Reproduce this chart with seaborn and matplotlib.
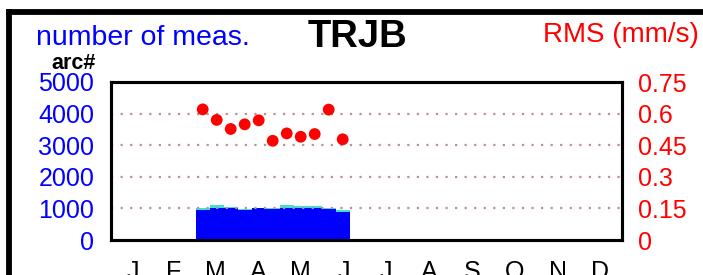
#!/usr/bin/env python3
"""Monthly overview for station TRJB: number of measurements (bars) and RMS (dots)."""

import matplotlib

matplotlib.use("Agg")

import matplotlib.pyplot as plt
import numpy as np
import pandas as pd
import seaborn as sns
from matplotlib.lines import Line2D

# --- data ----------------------------------------------------------------
MONTHS = ["J", "F", "M", "A", "M", "J", "J", "A", "S", "O", "N", "D"]
MONTH_DAYS = [31, 28, 31, 30, 31, 30, 31, 31, 30, 31, 30, 31]

# 10-day bins, first bin starts at day-of-year 60.5
bin_start = [60.5, 70.5, 80.5, 90.5, 100.5, 110.5, 120.5, 130.5, 140.5, 150.5, 160.5]
n_arc = [950, 1020, 1000, 945, 1000, 970, 1020, 1000, 1010, 970, 900]
n_total = [1000, 1095, 1030, 970, 1020, 1000, 1115, 1085, 1085, 1000, 960]
rms = [0.620, 0.570, 0.527, 0.549, 0.568, 0.471, 0.506, 0.490, 0.503, 0.619, 0.478]

BIN_WIDTH = 10

W, H = 703, 275


def fx(px):
    return px / W


def fy(py):
    return 1 - py / H


def main():
    sns.set_theme(style="white")
    plt.rcParams["font.family"] = ["Liberation Sans", "DejaVu Sans"]

    df = pd.DataFrame({"start": bin_start, "arc": n_arc, "total": n_total, "rms": rms})
    df["mid"] = df["start"] + BIN_WIDTH / 2

    fig = plt.figure(figsize=(W / 100, H / 100), dpi=100)
    ax = fig.add_axes([fx(111), fy(240), fx(622) - fx(111), fy(82) - fy(240)])

    # bars: cyan total underneath, blue arc count on top
    ax.bar(df["start"], df["total"], width=BIN_WIDTH, align="edge",
           color="#40e0d0", linewidth=0, zorder=1)
    ax.bar(df["start"], df["arc"], width=BIN_WIDTH, align="edge",
           color="#0000ff", linewidth=0, zorder=2)

    ax.set_xlim(0, 365)
    ax.set_ylim(0, 5000)
    ax.set_yticks(np.arange(0, 5001, 1000))
    ax.set_xlabel("")
    ax.set_ylabel("")

    # dotted horizontal grid, drawn over the bars
    for yv in range(1000, 5000, 1000):
        ax.axhline(yv, color="#bf9090", lw=1.6, ls=(0, (1, 3.3)), zorder=3)

    # month ticks at month boundaries, labels in the middle
    starts = np.concatenate([[0], np.cumsum(MONTH_DAYS)[:-1]])
    mids = starts + np.array(MONTH_DAYS) / 2
    ax.set_xticks(starts)
    ax.set_xticklabels([])
    ax.set_xticks(mids, minor=True)
    ax.set_xticklabels(MONTHS, minor=True)
    ax.tick_params(axis="x", which="major", length=10, width=2, color="black", direction="out")
    ax.tick_params(axis="x", which="minor", length=0, pad=14.5, labelsize=18, labelcolor="black")
    ax.tick_params(axis="y", length=0, pad=12, labelsize=18, labelcolor="#0000ff")

    for sp in ax.spines.values():
        sp.set_linewidth(2.2)
        sp.set_color("black")

    # RMS on the right axis
    ax2 = ax.twinx()
    sns.scatterplot(data=df, x="mid", y="rms", ax=ax2, color="#ff0000",
                    s=72, edgecolor="none", zorder=5)
    ax2.set_ylim(0, 0.75)
    ax2.set_yticks([0, 0.15, 0.3, 0.45, 0.6, 0.75])
    ax2.set_yticklabels(["0", "0.15", "0.3", "0.45", "0.6", "0.75"])
    ax2.tick_params(axis="y", length=0, pad=11.5, labelsize=18, labelcolor="#ff0000")
    ax2.set_xlabel("")
    ax2.set_ylabel("")
    ax2.set_xlim(0, 365)
    for sp in ax2.spines.values():
        sp.set_linewidth(2.2)
        sp.set_color("black")

    # headings
    fig.text(fx(36), fy(45), "number of meas.", color="#0000ff", fontsize=20.5,
             ha="left", va="baseline")
    fig.text(fx(308), fy(47), "TRJB", color="black", fontsize=27.5, fontweight="bold",
             ha="left", va="baseline")
    fig.text(fx(543), fy(42), "RMS (mm/s)", color="#ff0000", fontsize=20,
             ha="left", va="baseline")
    fig.text(fx(51), fy(69), "arc#", color="black", fontsize=15.5, fontweight="bold",
             ha="left", va="baseline")

    # thick outer frame (left and top edges visible)
    fig.add_artist(Line2D([fx(9), fx(9)], [fy(12), fy(300)], color="black", lw=4.2,
                          transform=fig.transFigure, solid_capstyle="projecting"))
    fig.add_artist(Line2D([fx(9), fx(720)], [fy(12), fy(12)], color="black", lw=4.2,
                          transform=fig.transFigure, solid_capstyle="projecting"))

    fig.savefig("out.png", dpi=100)
    plt.close(fig)


if __name__ == "__main__":
    main()
